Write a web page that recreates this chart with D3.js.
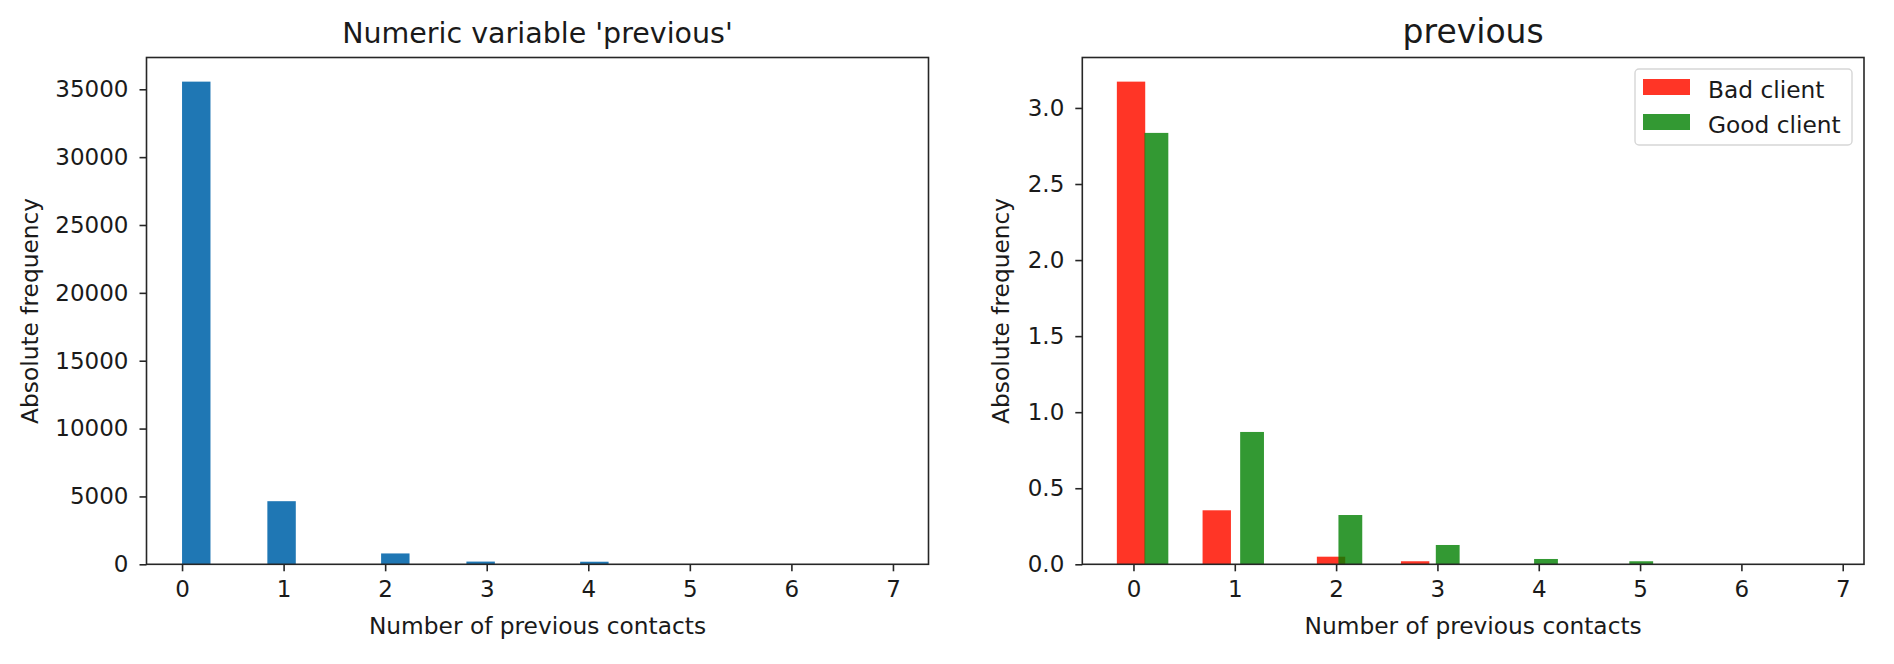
<!DOCTYPE html>
<html>
<head>
<meta charset="utf-8">
<script src="https://cdn.jsdelivr.net/npm/d3@7"></script>
<style>
  html, body { margin: 0; padding: 0; background: #fff; }
  text { font-family: "DejaVu Sans", sans-serif; fill: #1a1a1a; }
</style>
</head>
<body>
<svg id="chart" width="1894" height="664"></svg>
<script>
// ---------- data ----------
// Left: histogram of 'previous' (25 bins over 0..7, bin width 0.28)
const leftBinStart = [0, 0.84, 1.96, 2.80, 3.92, 4.76, 5.88, 6.72];
const leftBinWidth = 0.28;
const leftCounts   = [35563, 4650, 800, 200, 190, 18, 5, 1];
const leftXTicks   = [0, 1, 2, 3, 4, 5, 6, 7];
const leftYTicks   = [0, 5000, 10000, 15000, 20000, 25000, 30000, 35000];

// Right: density histograms by client type
const badStart   = [-0.164, 0.682, 1.81, 2.64];
const badWidth   = 0.28;
const badValues  = [3.173, 0.355, 0.05, 0.02];
const goodStart  = [0.109, 1.053, 2.023, 2.984, 3.954, 4.894];
const goodWidth  = 0.235;
const goodValues = [2.836, 0.87, 0.324, 0.127, 0.035, 0.02];
const rightXTicks = [0, 1, 2, 3, 4, 5, 6, 7];
const rightYTicks = [0, 0.5, 1.0, 1.5, 2.0, 2.5, 3.0];
const seriesNames = ["Bad client", "Good client"];

// ---------- drawing ----------
const svg = d3.select("#chart");
const axisColor = "#262626";

function panel(opts) {
  const x = d3.scaleLinear().domain(opts.xDomain).range([opts.left, opts.right]);
  const y = d3.scaleLinear().domain(opts.yDomain).range([opts.bottom, opts.top]);
  const g = svg.append("g");

  opts.draw(g, x, y);

  // frame
  g.append("rect")
    .attr("x", opts.left).attr("y", opts.top)
    .attr("width", opts.right - opts.left).attr("height", opts.bottom - opts.top)
    .attr("fill", "none").attr("stroke", axisColor).attr("stroke-width", 1.6);

  const xa = g.append("g").attr("transform", `translate(0,${opts.bottom})`)
    .call(d3.axisBottom(x).tickValues(opts.xTicks).tickSize(7).tickPadding(9).tickFormat(d3.format("d")));
  const ya = g.append("g").attr("transform", `translate(${opts.left},0)`)
    .call(d3.axisLeft(y).tickValues(opts.yTicks).tickSize(7).tickPadding(11).tickFormat(opts.yFormat));
  [xa, ya].forEach(a => {
    a.select(".domain").remove();
    a.selectAll(".tick line").attr("stroke", axisColor).attr("stroke-width", 1.6);
    a.selectAll(".tick text").attr("font-size", 23).attr("fill", "#1a1a1a")
      .style("font-family", "'DejaVu Sans', sans-serif");
  });

  const cx = (opts.left + opts.right) / 2;
  const cy = (opts.top + opts.bottom) / 2;
  g.append("text").attr("x", cx).attr("y", 43).attr("text-anchor", "middle")
    .attr("font-size", opts.titleSize).text(opts.title);
  g.append("text").attr("x", cx).attr("y", 634).attr("text-anchor", "middle")
    .attr("font-size", 23.3).text("Number of previous contacts");
  g.append("text").attr("transform", `translate(${opts.yLabelX},${cy}) rotate(-90)`)
    .attr("text-anchor", "middle").attr("font-size", 23.3).text("Absolute frequency");
}

// Left panel
panel({
  left: 146.5, right: 928.5, top: 57.5, bottom: 564.3,
  xDomain: [-0.35, 7.35], yDomain: [0, d3.max(leftCounts) * 1.05],
  xTicks: leftXTicks, yTicks: leftYTicks, yFormat: d3.format("d"),
  title: "Numeric variable 'previous'", titleSize: 28.5, yLabelX: 38,
  draw: (g, x, y) => {
    g.selectAll("rect.bar").data(leftCounts).join("rect").attr("class", "bar")
      .attr("x", (d, i) => x(leftBinStart[i]))
      .attr("width", (d, i) => x(leftBinStart[i] + leftBinWidth) - x(leftBinStart[i]))
      .attr("y", d => y(d)).attr("height", d => y(0) - y(d))
      .attr("fill", "#1f77b4");
  }
});

// Right panel
panel({
  left: 1082.3, right: 1864, top: 57.5, bottom: 564.3,
  xDomain: [-0.505, 7.21], yDomain: [0, d3.max(badValues) * 1.05],
  xTicks: rightXTicks, yTicks: rightYTicks, yFormat: d3.format(".1f"),
  title: "previous", titleSize: 33, yLabelX: 1009,
  draw: (g, x, y) => {
    g.selectAll("rect.bad").data(badValues).join("rect").attr("class", "bad")
      .attr("x", (d, i) => x(badStart[i]))
      .attr("width", (d, i) => x(badStart[i] + badWidth) - x(badStart[i]))
      .attr("y", d => y(d)).attr("height", d => y(0) - y(d))
      .attr("fill", "#ff2a1a").attr("fill-opacity", 0.95);
    g.selectAll("rect.good").data(goodValues).join("rect").attr("class", "good")
      .attr("x", (d, i) => x(goodStart[i]))
      .attr("width", (d, i) => x(goodStart[i] + goodWidth) - x(goodStart[i]))
      .attr("y", d => y(d)).attr("height", d => y(0) - y(d))
      .attr("fill", "green").attr("fill-opacity", 0.8);

    // legend
    const lg = g.append("g").attr("transform", "translate(1635,69)");
    lg.append("rect").attr("width", 217).attr("height", 76).attr("rx", 4)
      .attr("fill", "#fff").attr("fill-opacity", 0.8)
      .attr("stroke", "#d6d6d6").attr("stroke-width", 1.4);
    const colors = ["#ff2a1a", "green"];
    const opac = [0.95, 0.8];
    seriesNames.forEach((name, i) => {
      lg.append("rect").attr("x", 8).attr("y", 10 + i * 35).attr("width", 47).attr("height", 16)
        .attr("fill", colors[i]).attr("fill-opacity", opac[i]);
      lg.append("text").attr("x", 73).attr("y", 29 + i * 34.5).attr("font-size", 23.3).text(name);
    });
  }
});
</script>
</body>
</html>
